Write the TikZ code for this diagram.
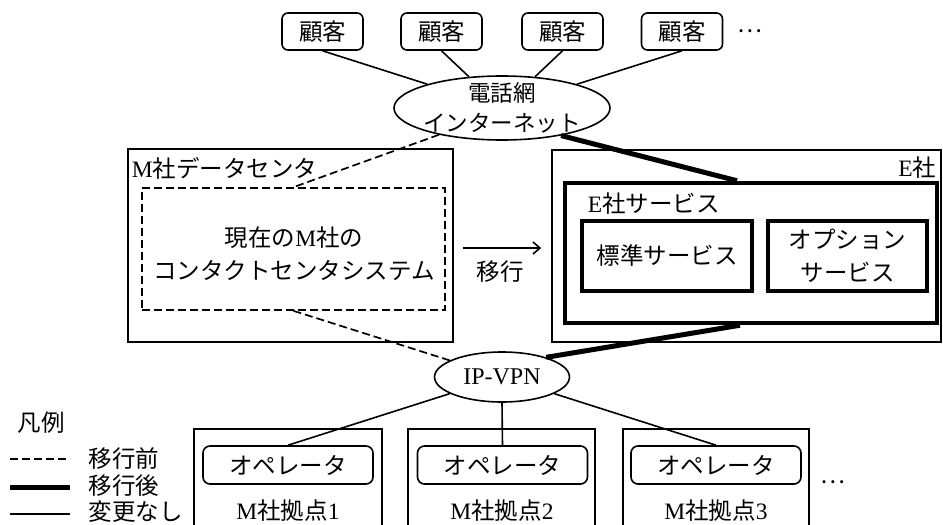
\documentclass[tikz,border=0pt]{standalone}
\usepackage{fontspec}
\setmainfont{Liberation Serif}
\newfontfamily\cjk{Noto Sans CJK JP}
\usetikzlibrary{shapes.geometric,arrows.meta}
\begin{document}
\begin{tikzpicture}[x=1pt,y=-1pt,line width=1.6pt,
  every node/.style={font=\fontsize{23.5}{28}\selectfont, inner sep=0pt},
  cust/.style={draw, rounded corners=6pt, minimum width=81pt, minimum height=37pt},
  cloud/.style={draw, ellipse},
  plainbox/.style={draw, rectangle},
  oldbox/.style={draw, rectangle, line width=1.7pt, dash pattern=on 8pt off 4pt},
  newbox/.style={draw, rectangle, line width=4.5pt},
  oper/.style={draw, rounded corners=7pt, minimum width=170pt, minimum height=38pt},
  oldline/.style={line width=1.7pt, dash pattern=on 8pt off 4pt},
  newline/.style={line width=5pt},
  txt/.style={align=center}
]
\useasboundingbox (0,0) rectangle (943,525);

% customers
\node[cust] (c1) at (322.5,31.5) {\cjk 顧客};
\node[cust] (c2) at (441.5,31.5) {\cjk 顧客};
\node[cust] (c3) at (562.5,31.5) {\cjk 顧客};
\node[cust] (c4) at (682,31.5) {\cjk 顧客};
\node (dots1) at (750,31.5) {\cjk …};

% telephone network / internet
\node[cloud, minimum width=216pt, minimum height=64pt,
  label={[txt, font=\fontsize{22.5}{30}\selectfont]center:{\cjk 電話網}\\{\cjk インターネット}}] (net) at (502,108) {};

% M data center
\node[plainbox, minimum width=325pt, minimum height=193pt] (mdc) at (290.5,245.5) {};
\node[anchor=west] (mdclbl) at (131,168) {M{\cjk 社データセンタ}};
\node[oldbox, minimum width=303pt, minimum height=122pt] (cur) at (293.5,249) {};
\node[txt, font=\fontsize{23.5}{33}\selectfont] (curtxt) at (294,254) {{\cjk 現在の}M{\cjk 社の}\\{\cjk コンタクトセンタシステム}};

% E company
\node[plainbox, minimum width=389pt, minimum height=192pt] (esha) at (746.5,246) {};
\node[anchor=east] (eshalbl) at (937,168) {E{\cjk 社}};
\node[newbox, minimum width=372pt, minimum height=140pt] (esvc) at (751,253) {};
\node[anchor=west] (esvclbl) at (587,204) {E{\cjk 社サービス}};
\node[newbox, minimum width=170pt, minimum height=70pt] (std) at (667,256) {\cjk 標準サービス};
\node[newbox, minimum width=159pt, minimum height=70pt, txt, font=\fontsize{23.5}{33}\selectfont] (opt) at (847.5,256) {{\cjk オプション}\\{\cjk サービス}};

% migration arrow
\draw[-{Straight Barb[length=7pt,width=12pt]}] ([xshift=9pt]mdc.east |- 0,248) coordinate (a0) -- ([xshift=-10pt]esha.west |- 0,248) coordinate (a1);
\node (mig) at (500,272) {\cjk 移行};

% IP-VPN
\node[cloud, minimum width=135pt, minimum height=50pt, font=\fontsize{24}{28}\selectfont] (vpn) at (502,377) {IP-VPN};

% sites
\draw (194,525) -- (194,429) -- (382,429) -- (382,525);
\draw (408,525) -- (408,429) -- (595,429) -- (595,525);
\draw (623,525) -- (623,429) -- (809,429) -- (809,525);
\node[oper] (o1) at (288,465) {\cjk オペレータ};
\node[oper] (o2) at (502.5,465) {\cjk オペレータ};
\node[oper] (o3) at (716,465) {\cjk オペレータ};
\node (s1) at (288,511) {M{\cjk 社拠点}1};
\node (s2) at (502,511) {M{\cjk 社拠点}2};
\node (s3) at (716,511) {M{\cjk 社拠点}3};
\node (dots2) at (833,482) {\cjk …};

% connectors
\draw (c1.south) -- (net);
\draw (c2.south) -- (net);
\draw (c3.south) -- (net);
\draw (c4.south) -- (net);
\draw[oldline] (net.203) -- (cur.north);
\draw[oldline] (cur.south) -- (vpn);
\draw[newline] (net.-25) -- ([xshift=-14pt]esvc.north);
\draw[newline] ([xshift=-11pt]esvc.south) -- (vpn.24);
\draw (vpn) -- (o1.north);
\draw (vpn.south) -- (o2.north);
\draw (vpn) -- (o3.north);

% legend
\node (leg) at (41,423) {\cjk 凡例};
\draw[oldline] (10,459) -- (70,459);
\draw[newline] (10,487) -- (70,487);
\draw (10,514) -- (70,514);
\node[anchor=west] (l1) at (88,459) {\cjk 移行前};
\node[anchor=west] (l2) at (88,486) {\cjk 移行後};
\node[anchor=west] (l3) at (88,512) {\cjk 変更なし};
\end{tikzpicture}
\end{document}
